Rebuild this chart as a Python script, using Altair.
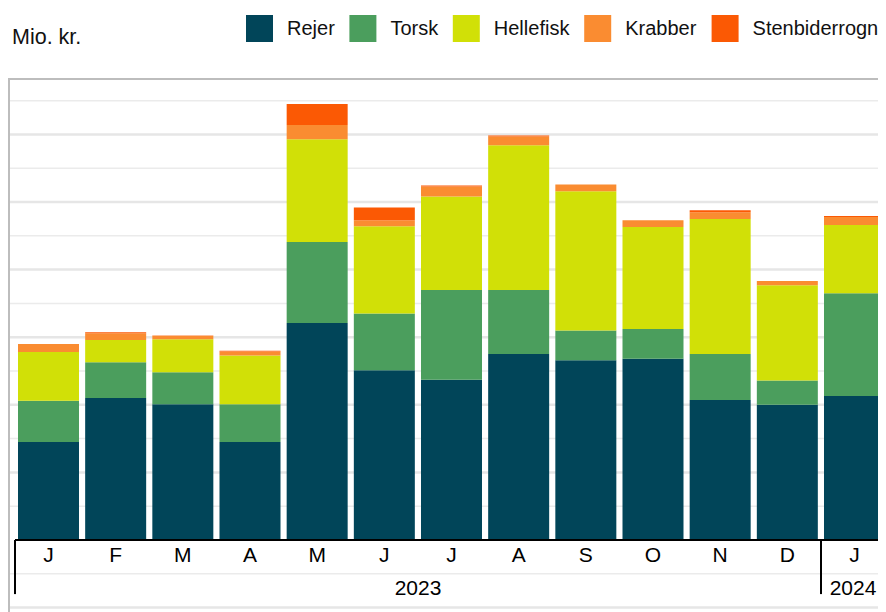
import altair as alt
import pandas as pd

# ---- data (Mio. kr.) ----
month_letters = ["J", "F", "M", "A", "M", "J", "J", "A", "S", "O", "N", "D", "J"]
month_keys = [f"{m}{i + 1:02d}" for i, m in enumerate(month_letters)]
series = ["Rejer", "Torsk", "Hellefisk", "Krabber", "Stenbiderrogn"]
colors = ["#014559", "#4b9e5d", "#d1e007", "#fa8c31", "#fb5904"]

rejer = [145, 210, 201, 145, 321, 251, 237, 275, 266, 268, 207, 200, 213]
torsk = [61, 53, 47, 56, 120, 84, 133, 95, 44, 44, 68, 36, 152]
hellefisk = [72, 33, 49, 72, 152, 129, 138, 214, 206, 151, 200, 141, 101]
krabber = [12, 10, 5, 6, 21, 9, 15, 13, 10, 10, 10, 6, 12]
stenbiderrogn = [0, 1.5, 0.7, 1, 31, 19, 1.5, 1.5, 0, 0, 3, 0, 1.5]

years = ["2023", "2024"]
year_start_keys = ["J01", "J13"]
grid_major = [-100, 100, 200, 300, 400, 500, 600]
grid_minor = [-50, 50, 150, 250, 350, 450, 550, 650]

FONT = "Liberation Sans"
W, H = 870, 533
X_RANGE = 878
Y_LO, Y_HI = -106.5, 682.0

rows = []
for idx, (name, vals) in enumerate(zip(series, [rejer, torsk, hellefisk, krabber, stenbiderrogn])):
    for k, v in zip(month_keys, vals):
        rows.append({"key": k, "series": name, "idx": idx, "value": v})
df = pd.DataFrame(rows)

x_scale = alt.Scale(domain=month_keys, range=[0, X_RANGE], paddingInner=0.0918,
                    paddingOuter=0.0819, align=0.909)
y_scale = alt.Scale(domain=[Y_LO, Y_HI], nice=False, zero=False)

grid_minor_layer = alt.Chart(pd.DataFrame({"v": grid_minor})).mark_rule(
    color="#ebebeb", strokeWidth=1.5).encode(
    x=alt.value(2), x2=alt.value(W), y=alt.Y("v:Q", scale=y_scale, axis=None))
grid_major_layer = alt.Chart(pd.DataFrame({"v": grid_major})).mark_rule(
    color="#e6e6e6", strokeWidth=2.5).encode(
    x=alt.value(2), x2=alt.value(W), y=alt.Y("v:Q", scale=y_scale, axis=None))

bars = alt.Chart(df).mark_bar().encode(
    x=alt.X("key:N", sort=month_keys, scale=x_scale, axis=None),
    y=alt.Y("value:Q", stack="zero", scale=y_scale, axis=None),
    color=alt.Color("series:N", scale=alt.Scale(domain=series, range=colors),
                    legend=alt.Legend(orient="none", legendX=238, legendY=-64, direction="horizontal",
                                      title=None, symbolType="square", symbolSize=729,
                                      symbolStrokeWidth=0, symbolOpacity=1, labelFontSize=20,
                                      labelOffset=14, columnPadding=14.4, labelFont=FONT,
                                      labelColor="#111", padding=0)),
    order=alt.Order("idx:Q", sort="ascending"),
)

month_df = pd.DataFrame({"key": month_keys, "label": month_letters})
month_labels = alt.Chart(month_df).mark_text(
    baseline="alphabetic", align="center", fontSize=21, font=FONT, color="#000", dy=22).encode(
    x=alt.X("key:N", sort=month_keys), y=alt.datum(0), text="label:N")

one = pd.DataFrame({"a": [0]})

top_border = alt.Chart(one).mark_rule(color="#bdbdbd", strokeWidth=2).encode(
    x=alt.value(0), x2=alt.value(W), y=alt.value(0))
left_border = alt.Chart(one).mark_rule(color="#bdbdbd", strokeWidth=2).encode(
    x=alt.value(1), y=alt.value(0), y2=alt.value(H))
baseline = alt.Chart(one).mark_rule(color="#000", strokeWidth=2).encode(
    x=alt.value(7), x2=alt.value(W), y=alt.datum(0))

sep_df = pd.DataFrame({"key": year_start_keys})
separators = alt.Chart(sep_df).mark_rule(color="#000", strokeWidth=2, xOffset=-3).encode(
    x=alt.X("key:N", bandPosition=0), y=alt.datum(0), y2=alt.datum(-80))

y2023 = alt.Chart(pd.DataFrame({"key": ["J07"], "year": [years[0]]})).mark_text(
    xOffset=-3, baseline="alphabetic", align="center", fontSize=21, font=FONT, color="#000").encode(
    x=alt.X("key:N", bandPosition=0), y=alt.datum(-81), text="year:N")
y2024 = alt.Chart(pd.DataFrame({"key": ["J13"], "year": [years[1]]})).mark_text(
    xOffset=-1.5, baseline="alphabetic", align="center", fontSize=21, font=FONT, color="#000").encode(
    x=alt.X("key:N", bandPosition=0.5), y=alt.datum(-81), text="year:N")

unit_title = alt.Chart(one).mark_text(
    align="left", baseline="alphabetic", fontSize=21.5, font=FONT, color="#111").encode(
    x=alt.value(4), y=alt.value(-35), text=alt.value("Mio. kr."))

chart = alt.layer(grid_minor_layer, grid_major_layer, bars, month_labels, top_border, left_border,
                  baseline, separators, y2023, y2024, unit_title).properties(
    width=W, height=H,
    autosize=alt.AutoSizeParams(type="none"),
    padding={"left": 0, "top": 71, "right": 0, "bottom": 0},
).configure(font=FONT).configure_view(stroke=None).configure_axis(labels=False)

chart.save("out.html", embed_options={"renderer": "svg", "actions": False})
